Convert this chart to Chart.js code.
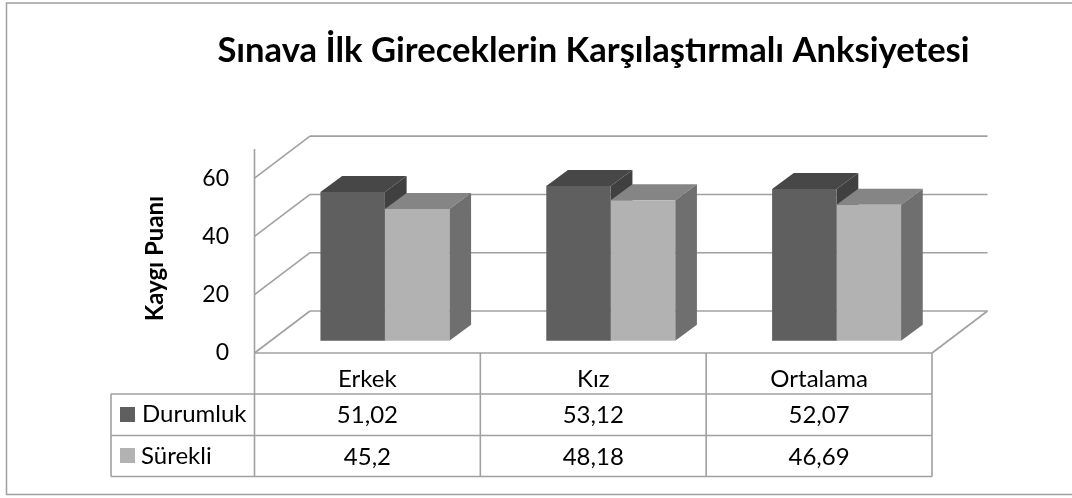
<!DOCTYPE html>
<html>
<head>
<meta charset="utf-8">
<style>
  html, body { margin: 0; padding: 0; background: #fff; }
  canvas { display: block; }
</style>
<script src="https://cdn.jsdelivr.net/npm/chart.js@4"></script>
</head>
<body>
<canvas id="chart" width="1072" height="498"></canvas>
<script>
const categories = ['Erkek', 'Kız', 'Ortalama']
const durumluk = [51.02, 53.12, 52.07]
const surekli = [45.2, 48.18, 46.69]
const durumlukLabels = ['51,02', '53,12', '52,07']
const surekliLabels = ['45,2', '48,18', '46,69']
const yTicks = [0, 20, 40, 60]

const FONT = 'Lato, "Open Sans", sans-serif'
const LINE = '#a0a0a0'

// the bars stand further back than the front axis, so they get their own scale
const BAR_LIFT = 4.22
const WALL_DX = 55.5
const WALL_DY = 42
const BAR_DX = 21.7
const BAR_DY = 16
// bars sit right of the middle of their table column
const COLUMN_SHIFT = 17.5

const line = (ctx, x1, y1, x2, y2) => {
  ctx.beginPath()
  ctx.moveTo(x1, y1)
  ctx.lineTo(x2, y2)
  ctx.stroke()
}

const poly = (ctx, pts, color) => {
  ctx.fillStyle = color
  ctx.beginPath()
  pts.forEach(([x, y], i) => (i ? ctx.lineTo(x, y) : ctx.moveTo(x, y)))
  ctx.closePath()
  ctx.fill()
}

const framePlugin = {
  id: 'frame',
  beforeDraw(chart) {
    const { ctx } = chart
    ctx.save()
    ctx.strokeStyle = '#a0a0a0'
    ctx.lineWidth = 1.5
    ctx.beginPath()
    ctx.moveTo(1072, 3)
    ctx.lineTo(6.5, 3)
    ctx.lineTo(6.5, 494.5)
    ctx.lineTo(1072, 494.5)
    ctx.stroke()
    ctx.restore()
  },
}

const wallPlugin = {
  id: 'walls',
  beforeDatasetsDraw(chart) {
    const { ctx, scales } = chart
    const y = scales.y
    const left = scales.x.left - COLUMN_SHIFT
    const right = scales.x.right - COLUMN_SHIFT
    ctx.save()
    ctx.strokeStyle = LINE
    ctx.lineWidth = 1.6
    yTicks.forEach((v) => {
      const py = y.getPixelForValue(v)
      line(ctx, left, py, left + WALL_DX, py - WALL_DY)
      line(ctx, left + WALL_DX, py - WALL_DY, right + WALL_DX, py - WALL_DY)
    })
    line(ctx, left, y.top, left, y.bottom)
    line(ctx, left, y.bottom, right, y.bottom)
    line(ctx, right, y.bottom, right + WALL_DX, y.bottom - WALL_DY)

    // top and side faces of the bars, the fronts come from Chart.js
    const faces = [['#474747', '#404040'], ['#858585', '#6f6f6f']]
    chart.data.datasets.forEach((ds, d) => {
      chart.getDatasetMeta(d).data.forEach((bar) => {
        const x1 = bar.x - bar.width / 2
        const x2 = bar.x + bar.width / 2
        poly(ctx, [[x1, bar.y], [x1 + BAR_DX, bar.y - BAR_DY], [x2 + BAR_DX, bar.y - BAR_DY], [x2, bar.y]], faces[d][0])
        poly(ctx, [[x2, bar.y], [x2 + BAR_DX, bar.y - BAR_DY], [x2 + BAR_DX, bar.base - BAR_DY], [x2, bar.base]], faces[d][1])
      })
    })
    ctx.restore()
  },
}

const tablePlugin = {
  id: 'dataTable',
  afterDraw(chart) {
    const { ctx, scales } = chart
    const left = scales.x.left - COLUMN_SHIFT
    const cols = categories.map((c, i) => scales.x.getPixelForValue(i) - COLUMN_SHIFT)
    const colW = cols[1] - cols[0]
    const right = cols[2] + colW / 2
    const rows = [394, 435.5, 476.5]
    const legendLeft = 111

    ctx.save()
    ctx.strokeStyle = LINE
    ctx.lineWidth = 1.6
    rows.forEach((ry) => line(ctx, legendLeft, ry, right, ry))
    line(ctx, legendLeft, rows[0], legendLeft, rows[2])
    line(ctx, left, scales.y.bottom, left, rows[2])
    cols.forEach((cx) => line(ctx, cx + colW / 2, scales.y.bottom, cx + colW / 2, rows[2]))

    ctx.fillStyle = '#000'
    ctx.font = `24px ${FONT}`
    ctx.textBaseline = 'middle'
    ctx.textAlign = 'center'
    cols.forEach((cx, i) => {
      ctx.fillText(categories[i], cx, 379)
      ctx.fillText(durumlukLabels[i], cx, 415)
      ctx.fillText(surekliLabels[i], cx, 457)
    })

    ctx.textAlign = 'left'
    ctx.fillText('Durumluk', 142, 414)
    ctx.fillText('Sürekli', 141, 456)
    ctx.fillStyle = '#5f5f5f'
    ctx.fillRect(120, 407, 15, 15)
    ctx.fillStyle = '#b2b2b2'
    ctx.fillRect(120, 448, 15, 15)

    // axis title sits lower than the axis middle, so it is placed by hand
    ctx.fillStyle = '#000'
    ctx.font = `bold 24px ${FONT}`
    ctx.textAlign = 'center'
    ctx.translate(155, 258.5)
    ctx.rotate(-Math.PI / 2)
    ctx.fillText('Kaygı Puanı', 0, 0)
    ctx.restore()
  },
}

new Chart(document.getElementById('chart'), {
  type: 'bar',
  data: {
    labels: categories,
    datasets: [
      { label: 'Durumluk', data: durumluk, backgroundColor: '#5f5f5f', yAxisID: 'yBars' },
      { label: 'Sürekli', data: surekli, backgroundColor: '#b2b2b2', yAxisID: 'yBars' },
    ],
  },
  options: {
    responsive: false,
    animation: false,
    devicePixelRatio: 1,
    layout: { padding: { left: 115, right: 0, top: 0, bottom: 145 } },
    datasets: { bar: { categoryPercentage: 0.571, barPercentage: 1 } },
    plugins: {
      legend: { display: false },
      tooltip: { enabled: false },
      title: {
        display: true,
        text: 'Sınava İlk Gireceklerin Karşılaştırmalı Anksiyetesi',
        color: '#000',
        font: { family: FONT, size: 34.6, weight: 'bold', lineHeight: 1.2 },
        padding: { top: 30, bottom: 77.5 },
      },
    },
    scales: {
      x: {
        afterFit: (axis) => { axis.height = 0 },
        grid: { display: false },
        border: { display: false },
        ticks: { display: false },
      },
      y: {
        min: 0,
        max: 70,
        afterBuildTicks: (axis) => { axis.ticks = yTicks.map((value) => ({ value })) },
        afterFit: (axis) => { axis.width = 272 - 115 },
        grid: { display: false },
        border: { display: false },
        ticks: {
          padding: 35,
          color: '#000',
          font: { family: FONT, size: 23 },
          callback: (v) => v,
        },
      },
      yBars: {
        position: 'right',
        min: -BAR_LIFT,
        max: 70 - BAR_LIFT,
        afterFit: (axis) => { axis.width = 1072 - 949.5 },
        grid: { display: false },
        border: { display: false },
        ticks: { display: false },
      },
    },
  },
  plugins: [framePlugin, wallPlugin, tablePlugin],
})
</script>
</body>
</html>
